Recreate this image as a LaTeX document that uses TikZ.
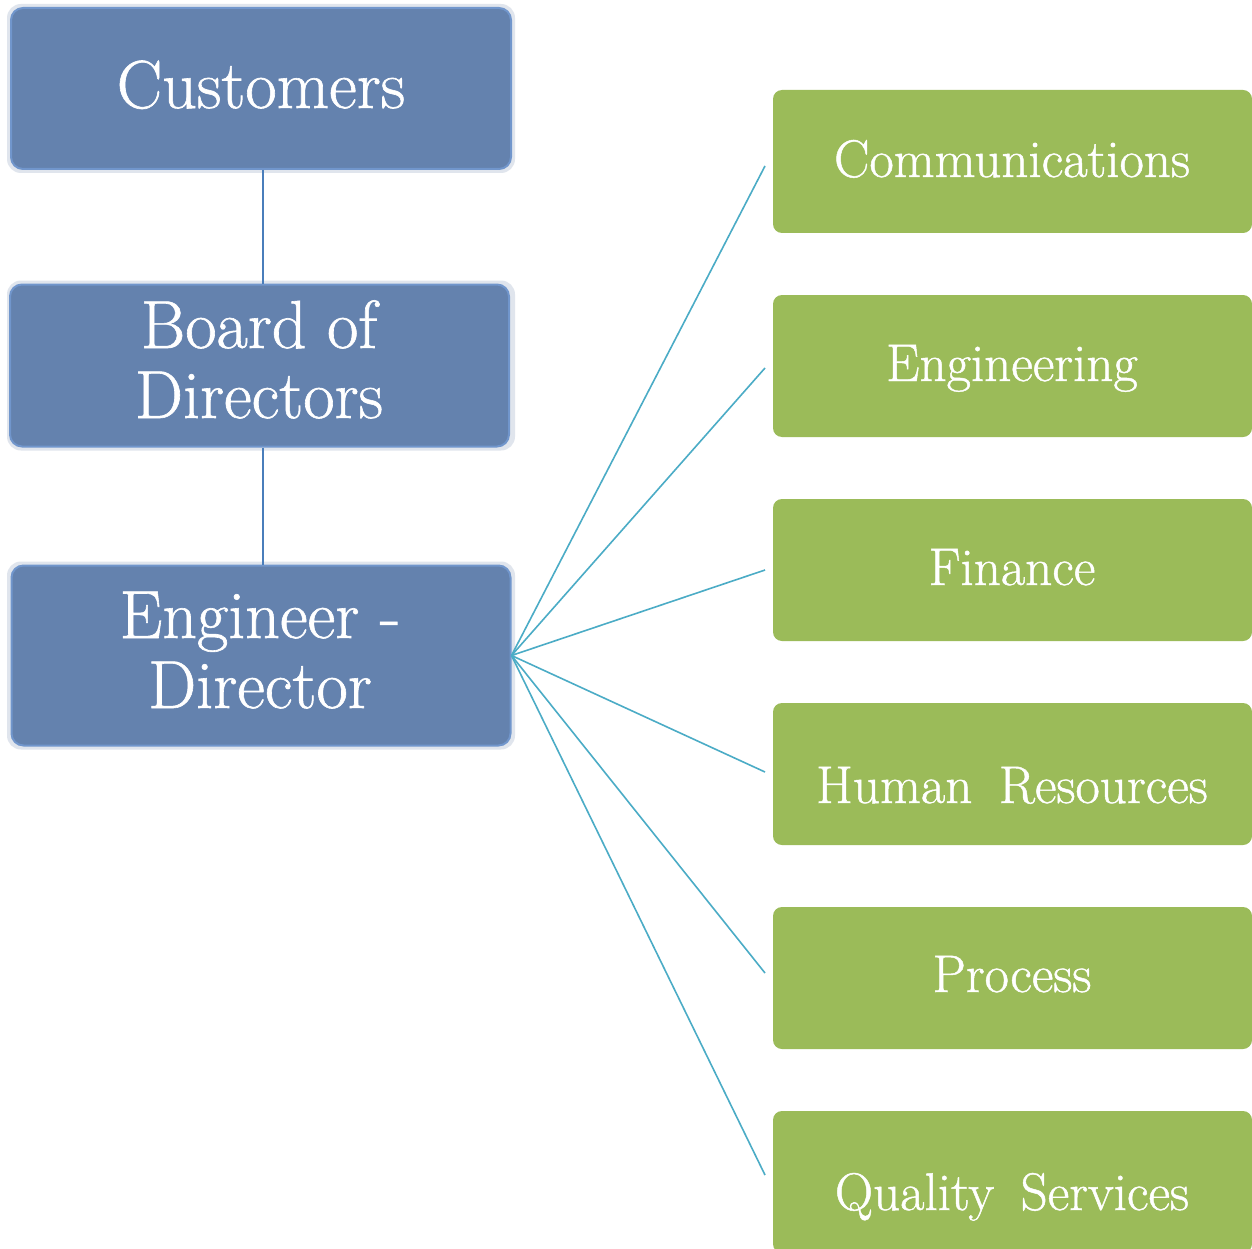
\documentclass[tikz,border=0pt]{standalone}
\usepackage{fontspec}
\newfontfamily\labfont{Latin Modern Roman}[FakeBold=0.9]
\definecolor{blueF}{HTML}{6482AE}
\definecolor{blueE}{HTML}{7196CC}
\definecolor{blueS}{HTML}{C3CDDC}
\definecolor{greenF}{HTML}{9BBB59}
\definecolor{fanC}{HTML}{4BACC6}
\definecolor{vertC}{HTML}{4A7EBB}
\tikzset{
  bluebox/.style={draw=blueE, line width=2pt, fill=blueF, rounded corners=12pt, inner sep=0pt},
  greenbox/.style={fill=greenF, draw=none, rounded corners=9pt, inner sep=0pt},
  bluetxt/.style={text=white, anchor=base, inner sep=0pt, font=\labfont\fontsize{68}{78}\selectfont},
  greentxt/.style={text=white, anchor=base, inner sep=0pt, font=\labfont\fontsize{53}{62}\selectfont},
  vline/.style={draw=vertC, line width=2pt},
  fanline/.style={draw=fanC, line width=1.6pt}
}
\begin{document}
\begin{tikzpicture}[x=1pt,y=-1pt]
\useasboundingbox (0,0) rectangle (1252,1249);
\fill[white] (0,0) rectangle (1252,1249);
% soft glow
\foreach \cy/\h in {88.5/163,365.5/164,655.5/182}{
  \fill[blueS, opacity=0.5, rounded corners=14pt] (7,\cy-\h/2-3) rectangle (515,\cy+\h/2+3);
}
% blue boxes
\node[bluebox, minimum width=500pt, minimum height=161pt] (cust) at (261,88.5) {};
\node[bluebox, minimum width=499pt, minimum height=162pt] (board) at (259.5,365.5) {};
\node[bluebox, minimum width=499pt, minimum height=180pt] (eng) at (261,655.5) {};
% green boxes
\node[greenbox, minimum width=479pt, minimum height=143pt] (g1) at (1012.5,161.5) {};
\node[greenbox, minimum width=479pt, minimum height=142pt] (g2) at (1012.5,366) {};
\node[greenbox, minimum width=479pt, minimum height=142pt] (g3) at (1012.5,570) {};
\node[greenbox, minimum width=479pt, minimum height=142pt] (g4) at (1012.5,774) {};
\node[greenbox, minimum width=479pt, minimum height=142pt] (g5) at (1012.5,978) {};
\node[greenbox, minimum width=479pt, minimum height=142pt] (g6) at (1012.5,1182) {};
% connectors
\draw[vline] (cust.south -| 263,0) -- (board.north -| 263,0);
\draw[vline] (board.south -| 263,0) -- (eng.north -| 263,0);
\coordinate (e1) at (765,166);
\coordinate (e2) at (765,368);
\coordinate (e3) at (765,570);
\coordinate (e4) at (765,772);
\coordinate (e5) at (765,973);
\coordinate (e6) at (765,1175);
\foreach \i in {1,...,6}{ \draw[fanline] (eng.east) -- (e\i); }
% texts
\node[bluetxt] (tcust) at (261,108) {Customers};
\node[bluetxt] (tb1) at (259,348) {Board of};
\node[bluetxt] (tb2) at (259,418) {Directors};
\node[bluetxt] (te1) at (260,638) {Engineer -};
\node[bluetxt] (te2) at (260,708) {Director};
\node[greentxt] (tg1) at (1012,177) {Communications};
\node[greentxt] (tg2) at (1012,381) {Engineering};
\node[greentxt] (tg3) at (1012,585) {Finance};
\node[greentxt] (tg4) at (1012,803) {Human\hspace{0.2em} Resources};
\node[greentxt] (tg5) at (1012,992) {Process};
\node[greentxt] (tg6) at (1012,1210) {Quality\hspace{0.2em} Services};
\end{tikzpicture}
\end{document}
